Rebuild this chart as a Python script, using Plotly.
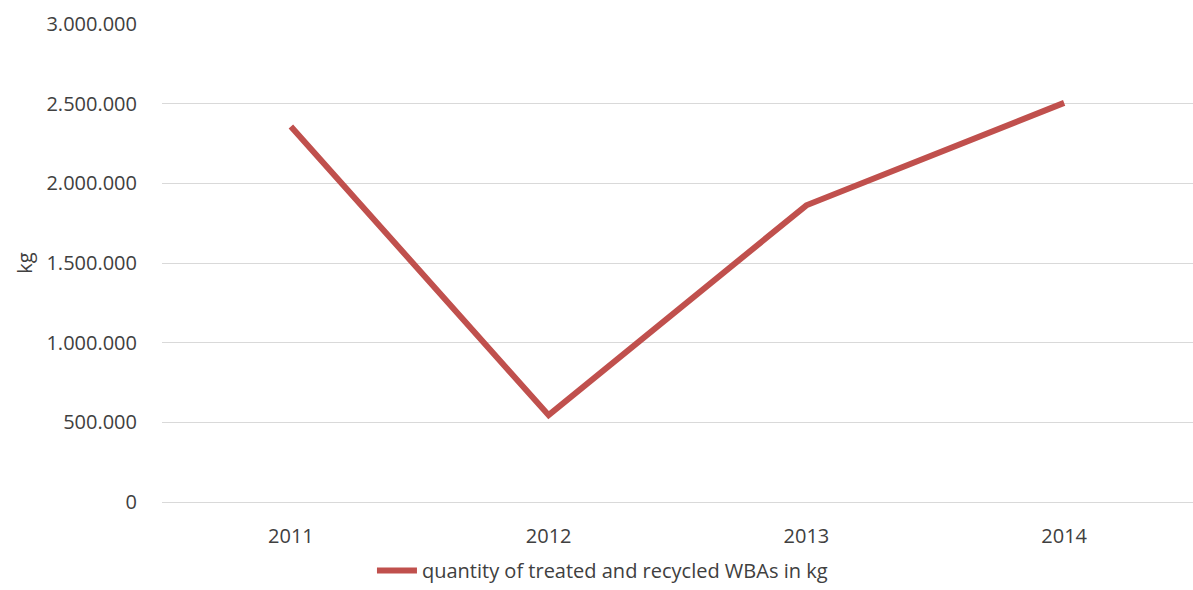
import plotly.graph_objects as go

# Yearly totals of treated and recycled WBAs (kg)
years = ["2011", "2012", "2013", "2014"]
quantity_kg = [2357000, 545000, 1862000, 2505000]
series_name = "quantity of treated and recycled WBAs in kg"
y_ticks = [0, 500000, 1000000, 1500000, 2000000, 2500000, 3000000]

line_color = "#C0504D"
text_color = "#404040"
grid_color = "#D9D9D9"
font_family = "Open Sans, Liberation Sans, sans-serif"
font_size = 20

fig = go.Figure()
fig.add_trace(go.Scatter(
    x=years,
    y=quantity_kg,
    mode="lines",
    name=series_name,
    line=dict(color=line_color, width=6),
))

fig.update_layout(
    width=1193,
    height=590,
    margin=dict(l=162, r=0, t=24, b=88),
    paper_bgcolor="white",
    plot_bgcolor="white",
    separators=",.",
    font=dict(family=font_family, size=font_size, color=text_color),
    showlegend=True,
    legend=dict(
        orientation="h",
        xref="container",
        x=0.505,
        xanchor="center",
        yref="container",
        y=0.0,
        yanchor="bottom",
        font=dict(size=font_size, color=text_color),
        itemwidth=40,
    ),
    xaxis=dict(
        type="category",
        range=[-0.5, 3.5],
        showgrid=False,
        showline=False,
        zeroline=False,
        ticks="",
        ticklabelstandoff=20,
        tickfont=dict(size=font_size, color=text_color),
    ),
    yaxis=dict(
        range=[0, 3000000],
        tickvals=y_ticks,
        tickformat=",d",
        showgrid=True,
        gridcolor=grid_color,
        gridwidth=1,
        zeroline=True,
        zerolinecolor=grid_color,
        zerolinewidth=1,
        showline=False,
        ticks="",
        ticklabelstandoff=24,
        tickfont=dict(size=font_size, color=text_color),
        title=dict(text="kg", font=dict(size=font_size, color=text_color), standoff=8),
    ),
)

fig.write_html("out.html")
